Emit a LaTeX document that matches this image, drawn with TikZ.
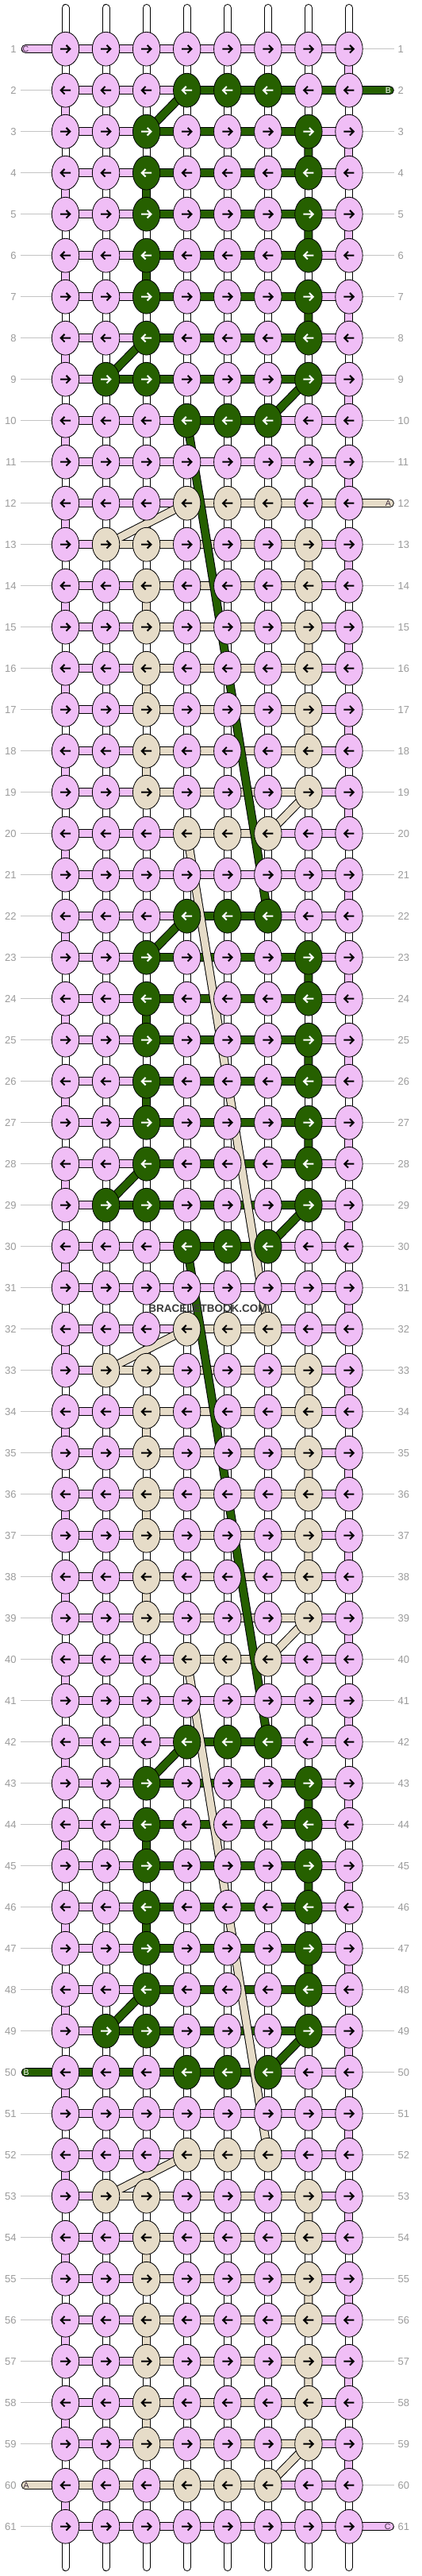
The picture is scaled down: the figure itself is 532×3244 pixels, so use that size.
\documentclass[tikz,border=0pt]{standalone}
\usepackage{fontspec}
\setmainfont{Liberation Sans}
\usetikzlibrary{shapes.geometric}
\definecolor{cpink}{HTML}{F0BEF6}
\definecolor{cgreen}{HTML}{266000}
\definecolor{cbeige}{HTML}{E6DCC8}
\definecolor{cnum}{HTML}{9A9A9A}
\definecolor{cgl}{HTML}{C4C4C4}
\definecolor{cmark}{HTML}{3A3A3A}
\definecolor{cletter}{HTML}{403040}
\tikzset{
  knot/.style={ellipse, draw=black, line width=0.8pt, minimum width=34.4pt, minimum height=42.8pt, inner sep=0pt, outer sep=0pt},
  outl/.style={line width=11pt, draw=black},
  inl/.style={line width=9pt},
  warpo/.style={line width=10pt, draw=black, line cap=round},
  warpi/.style={line width=8pt, draw=white, line cap=round},
  glabel/.style={line width=0.9pt, draw=cgl},
  numl/.style={anchor=east, inner sep=0pt, font=\fontsize{13}{13}\selectfont, text=cnum},
  numr/.style={anchor=west, inner sep=0pt, font=\fontsize{13}{13}\selectfont, text=cnum},
  arr/.style={line width=2pt, miter limit=10},
  capl/.style={font=\fontsize{10.5}{10.5}\selectfont, inner sep=0pt},
}
\newcommand\strand[2]{%
  \draw[outl, line cap=round, line join=round] #2;
  \draw[inl, draw=#1, line cap=round, line join=round] #2;}
\begin{document}
\begin{tikzpicture}[x=1pt,y=-1pt]
\useasboundingbox (0,0) rectangle (532,3244);
% coordinates
\foreach \r in {1,...,61}{
  \pgfmathsetmacro\yy{61.7+52*(\r-1)}
  \foreach \c in {1,...,8}{\coordinate (p-\c-\r) at ({82.5+51.07*(\c-1)},\yy);}
  \coordinate (eL-\r) at (32.2,\yy);
  \coordinate (eR-\r) at (491.3,\yy);
  \coordinate (gl-\r) at (26,\yy);
  \coordinate (gr-\r) at (497,\yy);
  \coordinate (ql-\r) at (20.8,\yy);
  \coordinate (qr-\r) at (501.5,\yy);
}
\foreach \c in {1,...,8}{
  \coordinate (wt-\c) at ({82.5+51.07*(\c-1)},10);
  \coordinate (wb-\c) at ({82.5+51.07*(\c-1)},3233);
}
% row labels and guide lines
\foreach \r in {1,...,61}{
  \pgfmathtruncatemacro\hl{(\r==1)+(\r==50)+(\r==60)}
  \pgfmathtruncatemacro\hr{(\r==2)+(\r==12)+(\r==61)}
  \ifnum\hl=0 \draw[glabel] (gl-\r) -- (p-1-\r);\fi
  \ifnum\hr=0 \draw[glabel] (p-8-\r) -- (gr-\r);\fi
  \node[numl] (nl-\r) at (ql-\r) {\r};
  \node[numr] (nr-\r) at (qr-\r) {\r};
}
% warp strings
\foreach \c in {1,...,8}{\draw[warpo] (wt-\c) -- (wb-\c);}
\foreach \c in {1,...,8}{\draw[warpi] (wt-\c) -- (wb-\c);}
% pink weft (serpentine)
\draw[outl, line cap=round] (eL-1) -- (p-1-1);
\draw[outl, line cap=round] (p-8-61) -- (eR-61);
\foreach \r in {1,...,61}{\draw[outl] (p-1-\r) -- (p-8-\r);}
\foreach \r in {1,3,...,59}{\pgfmathtruncatemacro\s{\r+1}\draw[outl] (p-8-\r) -- (p-8-\s);}
\foreach \r in {2,4,...,60}{\pgfmathtruncatemacro\s{\r+1}\draw[outl] (p-1-\r) -- (p-1-\s);}
\draw[inl, draw=cpink, line cap=round] (eL-1) -- (p-1-1);
\draw[inl, draw=cpink, line cap=round] (p-8-61) -- (eR-61);
\foreach \r in {1,...,61}{\draw[inl, draw=cpink] (p-1-\r) -- (p-8-\r);}
\foreach \r in {1,3,...,59}{\pgfmathtruncatemacro\s{\r+1}\draw[inl, draw=cpink] (p-8-\r) -- (p-8-\s);}
\foreach \r in {2,4,...,60}{\pgfmathtruncatemacro\s{\r+1}\draw[inl, draw=cpink] (p-1-\r) -- (p-1-\s);}
% green motifs
\strand{cgreen}{(eR-2) -- (p-4-2) -- (p-3-3) -- (p-7-3) -- (p-7-4) -- (p-3-4) -- (p-3-5) -- (p-7-5) -- (p-7-6) -- (p-3-6) -- (p-3-7) -- (p-7-7) -- (p-7-8) -- (p-3-8) -- (p-2-9) -- (p-7-9) -- (p-6-10) -- (p-4-10)}
\strand{cgreen}{(p-6-22) -- (p-4-22) -- (p-3-23) -- (p-7-23) -- (p-7-24) -- (p-3-24) -- (p-3-25) -- (p-7-25) -- (p-7-26) -- (p-3-26) -- (p-3-27) -- (p-7-27) -- (p-7-28) -- (p-3-28) -- (p-2-29) -- (p-7-29) -- (p-6-30) -- (p-4-30)}
\strand{cgreen}{(p-6-42) -- (p-4-42) -- (p-3-43) -- (p-7-43) -- (p-7-44) -- (p-3-44) -- (p-3-45) -- (p-7-45) -- (p-7-46) -- (p-3-46) -- (p-3-47) -- (p-7-47) -- (p-7-48) -- (p-3-48) -- (p-2-49) -- (p-7-49) -- (p-6-50) -- (p-4-50) -- (eL-50)}
% beige motifs
\strand{cbeige}{(eR-12) -- (p-4-12) -- (p-2-13) -- (p-7-13) -- (p-7-14) -- (p-3-14) -- (p-3-15) -- (p-7-15) -- (p-7-16) -- (p-3-16) -- (p-3-17) -- (p-7-17) -- (p-7-18) -- (p-3-18) -- (p-3-19) -- (p-7-19) -- (p-6-20) -- (p-4-20)}
\strand{cbeige}{(p-6-32) -- (p-4-32) -- (p-2-33) -- (p-7-33) -- (p-7-34) -- (p-3-34) -- (p-3-35) -- (p-7-35) -- (p-7-36) -- (p-3-36) -- (p-3-37) -- (p-7-37) -- (p-7-38) -- (p-3-38) -- (p-3-39) -- (p-7-39) -- (p-6-40) -- (p-4-40)}
\strand{cbeige}{(p-6-52) -- (p-4-52) -- (p-2-53) -- (p-7-53) -- (p-7-54) -- (p-3-54) -- (p-3-55) -- (p-7-55) -- (p-7-56) -- (p-3-56) -- (p-3-57) -- (p-7-57) -- (p-7-58) -- (p-3-58) -- (p-3-59) -- (p-7-59) -- (p-6-60) -- (p-4-60) -- (eL-60)}
% carried strands
\strand{cgreen}{(p-4-10) -- (p-6-22)}
\strand{cgreen}{(p-4-30) -- (p-6-42)}
\strand{cbeige}{(p-4-20) -- (p-6-32)}
\strand{cbeige}{(p-4-40) -- (p-6-52)}
% knots
\foreach \r in {1,...,61}{
  \foreach \c in {1,...,8}{
    \pgfmathtruncatemacro\m{mod(\r+18,20)}
    \pgfmathtruncatemacro\g{mod(\m,10)}
    \pgfmathtruncatemacro\bg{\m>=10}
    \pgfmathtruncatemacro\on{((\g==0)+(\g==8))*(\c>=4)*(\c<=6)+(\g>=1)*(\g<=7)*((\c==3)+(\c==7))+(\c==2)*((1-\bg)*(\g==7)+\bg*(\g==1))}
    \ifnum\on=0 \def\kc{cpink}\def\ac{black}\else\ifnum\bg=0 \def\kc{cgreen}\def\ac{white}\else\def\kc{cbeige}\def\ac{black}\fi\fi
    \node[knot, fill=\kc] (k-\c-\r) at (p-\c-\r) {};
    \pgfmathtruncatemacro\od{mod(\r,2)}
    \ifnum\od=1
      \draw[arr, draw=\ac, shift={(p-\c-\r)}] (-6.5,0) -- (5,0) (1,-4.8) -- (5.8,0) -- (1,4.8);
    \else
      \draw[arr, draw=\ac, shift={(p-\c-\r)}] (6.5,0) -- (-5,0) (-1,-4.8) -- (-5.8,0) -- (-1,4.8);
    \fi
  }
}
% end letters
\node[capl, text=cletter] (lC1) at ([xshift=0.3pt]eL-1) {C};
\node[capl, text=white] (lB2) at ([xshift=-2pt]eR-2) {B};
\node[capl, text=cletter] (lA12) at ([xshift=-2pt]eR-12) {A};
\node[capl, text=white] (lB50) at ([xshift=1pt]eL-50) {B};
\node[capl, text=cletter] (lA60) at ([xshift=1pt]eL-60) {A};
\node[capl, text=cletter] (lC61) at ([xshift=-2.6pt]eR-61) {C};
% watermark
\node[font=\bfseries\fontsize{13.5}{13.5}\selectfont, text=cmark, inner sep=0pt] (wm) at (262,1648) {BRACELETBOOK.COM};
\end{tikzpicture}
\end{document}
